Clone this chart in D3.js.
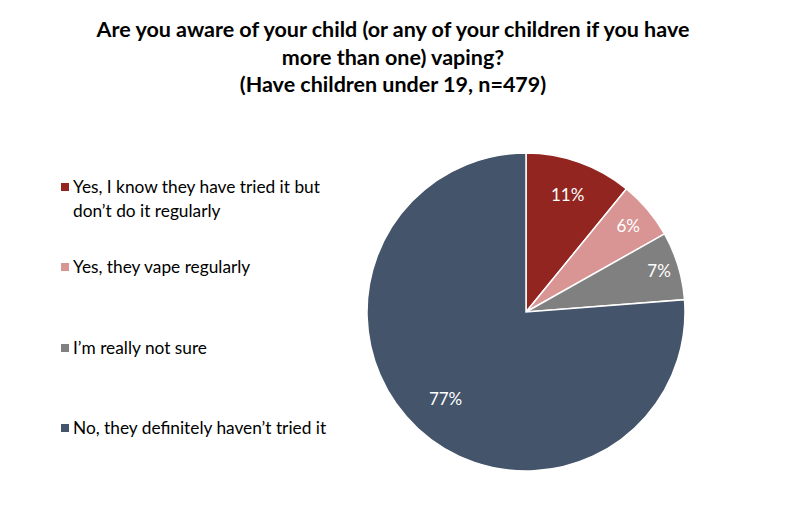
<!DOCTYPE html>
<html><head><meta charset="utf-8">
<script src="https://cdn.jsdelivr.net/npm/d3@7"></script>
<style>body{margin:0;background:#fff}</style>
</head><body>
<script>
const categories = ["Yes, I know they have tried it but don\u2019t do it regularly","Yes, they vape regularly","I\u2019m really not sure","No, they definitely haven\u2019t tried it"];
const legendLines = [["Yes, I know they have tried it but","don\u2019t do it regularly"],["Yes, they vape regularly"],["I\u2019m really not sure"],["No, they definitely haven\u2019t tried it"]];
const values = [11, 6, 7, 77];
const colors = ["#922520", "#D99594", "#808080", "#44546A"];
const titleLines = ["Are you aware of your child (or any of your children if you have","more than one) vaping?","(Have children under 19, n=479)"];

const W = 787, H = 521;
const svg = d3.select("body").append("svg").attr("width", W).attr("height", H);
const font = "Lato, 'Open Sans', sans-serif";

svg.append("g").selectAll("text").data(titleLines).join("text")
  .attr("x", 393).attr("y", (d,i)=>37 + i*27.5)
  .attr("text-anchor","middle").attr("font-family",font).attr("font-weight","bold")
  .attr("font-size",21.5).attr("fill","#000").text(d=>d);

const cx = 526, cy = 312, r = 159;
const pie = d3.pie().sort(null).value(d=>d);
const arcs = pie(values);
const arc = d3.arc().innerRadius(0).outerRadius(r);
const g = svg.append("g").attr("transform",`translate(${cx},${cy})`);
g.selectAll("path").data(arcs).join("path")
  .attr("d",arc).attr("fill",(d,i)=>colors[i]).attr("stroke","#fff").attr("stroke-width",1.5);
// label radius fraction per slice (Excel best-fit placement)
const labelFrac = [0.78, 0.84, 0.875, 0.745];
g.selectAll("text").data(arcs).join("text")
  .attr("transform",(d,i)=>{const c=d3.arc().innerRadius(r*labelFrac[i]).outerRadius(r*labelFrac[i]).centroid(d);return `translate(${c})`;})
  .attr("text-anchor","middle").attr("dy","0.35em")
  .attr("font-family",font).attr("font-size",17).attr("fill","#fff")
  .text(d=>d.data+"%");

const legendY = [193, 273, 354, 434];
const lg = svg.append("g");
legendLines.forEach((lines,i)=>{
  lg.append("rect").attr("x",61).attr("y",legendY[i]-10).attr("width",8).attr("height",8).attr("fill",colors[i]);
  lines.forEach((t,j)=>{
    lg.append("text").attr("x",73).attr("y",legendY[i]+j*24)
      .attr("font-family",font).attr("font-size",17.3).attr("fill","#000").text(t);
  });
});
</script>
</body></html>
